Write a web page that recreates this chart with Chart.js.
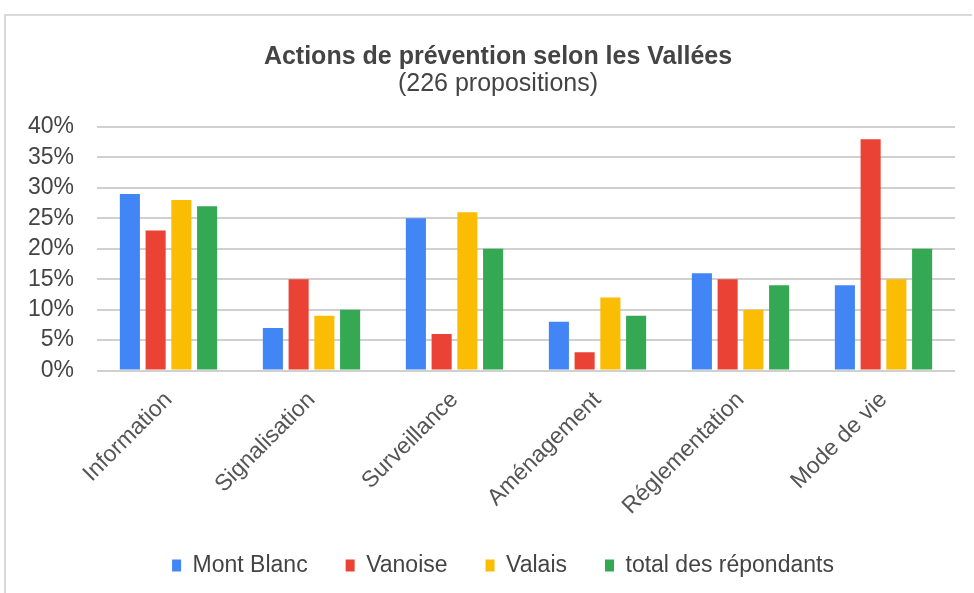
<!DOCTYPE html>
<html>
<head>
<meta charset="utf-8">
<script src="https://cdn.jsdelivr.net/npm/chart.js@4"></script>
<style>
  html, body { margin: 0; padding: 0; background: #fff; }
  #frame {
    position: absolute; left: 4px; top: 14px; width: 966px; height: 577px;
    border-top: 2px solid #d9d9d9; border-left: 2px solid #d9d9d9;
  }
  #frame canvas { display: block; }
</style>
</head>
<body>
<div id="frame"><canvas id="barChart" width="966" height="577"></canvas></div>
<script>
const categories = ['Information', 'Signalisation', 'Surveillance', 'Aménagement', 'Réglementation', 'Mode de vie'];
const montBlanc = [29, 7, 25, 8, 16, 14];
const vanoise = [23, 15, 6, 3, 15, 38];
const valais = [28, 9, 26, 12, 10, 15];
const totalRepondants = [27, 10, 20, 9, 14, 20];
const yTicks = [0, 5, 10, 15, 20, 25, 30, 35, 40];

// legend and titles sit a little right of centre in the original
const boxShift = {
    id: 'boxShift',
    afterLayout(chart) {
        chart.boxes.forEach(box => {
            let dx = 0;
            if (box === chart.legend) dx = 12;
            else if (box.options && box.options.text) dx = 7;
            box.left += dx;
            box.right += dx;
        });
    }
};

document.addEventListener('DOMContentLoaded', function () {
    const barCanvas = document.getElementById('barChart');
    const font = 'Arial, "Liberation Sans", sans-serif';

    new Chart(barCanvas, {
        type: 'bar',
        data: {
            labels: categories,
            datasets: [
                { label: 'Mont Blanc', data: montBlanc, backgroundColor: '#4285F4' },
                { label: 'Vanoise', data: vanoise, backgroundColor: '#EA4335' },
                { label: 'Valais', data: valais, backgroundColor: '#FBBC04' },
                { label: 'total des répondants', data: totalRepondants, backgroundColor: '#34A853' }
            ]
        },
        plugins: [boxShift],
        options: {
            responsive: false,
            animation: false,
            layout: { padding: { left: 21, right: 17, top: 14, bottom: 6 } },
            datasets: { bar: { categoryPercentage: 0.72, barPercentage: 0.78 } },
            plugins: {
                title: {
                    display: true,
                    text: 'Actions de prévention selon les Vallées',
                    color: '#444',
                    font: { family: font, size: 25, weight: 'bold', lineHeight: 1 },
                    padding: { top: 15, bottom: 0 }
                },
                subtitle: {
                    display: true,
                    text: '(226 propositions)',
                    color: '#444',
                    font: { family: font, size: 25, lineHeight: 1 },
                    padding: { top: 2, bottom: 30 }
                },
                legend: {
                    position: 'bottom',
                    labels: {
                        color: '#444',
                        font: { family: font, size: 23 },
                        boxWidth: 9,
                        boxHeight: 12,
                        padding: 38
                    }
                },
                tooltip: { enabled: false }
            },
            scales: {
                x: {
                    grid: { display: false },
                    border: { display: false },
                    afterFit: function (axis) {
                        axis.height = axis.height - 12;
                    },
                    ticks: {
                        color: '#555',
                        font: { family: font, size: 23 },
                        minRotation: 45,
                        maxRotation: 45,
                        padding: 8
                    }
                },
                y: {
                    min: 0,
                    max: 40,
                    afterBuildTicks: function (axis) {
                        axis.ticks = yTicks.map(v => ({ value: v }));
                    },
                    afterFit: function (axis) {
                        axis.width = 70;
                    },
                    grid: { color: '#d0d0d0', lineWidth: 2, drawTicks: false },
                    border: { display: false },
                    ticks: {
                        autoSkip: false,
                        color: '#444',
                        font: { family: font, size: 23 },
                        padding: 23,
                        callback: v => v + '%'
                    }
                }
            }
        }
    });
});
</script>
</body>
</html>
